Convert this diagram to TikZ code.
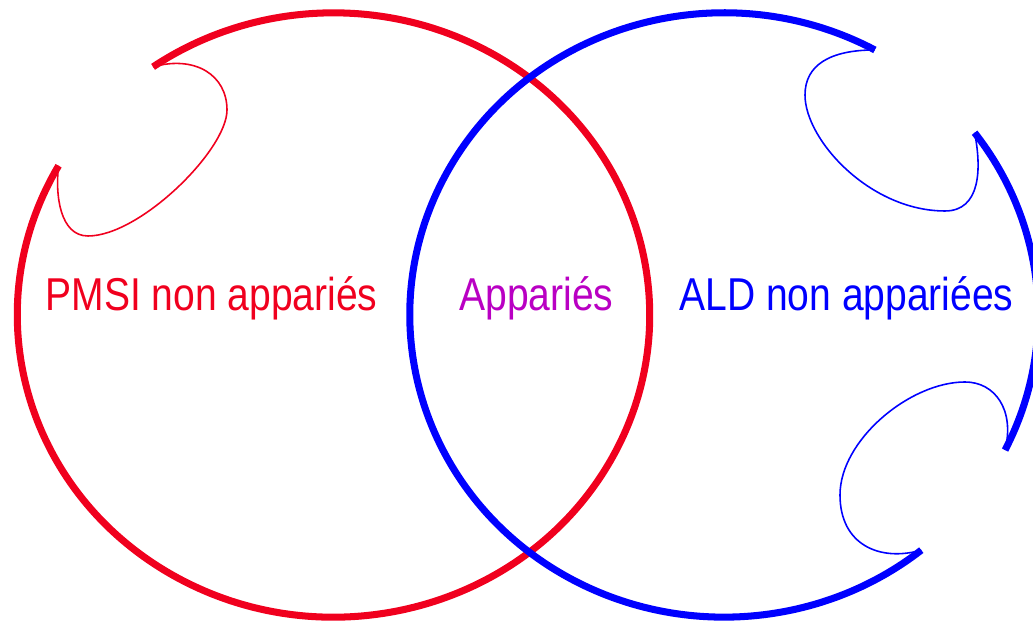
\documentclass[tikz,border=0pt]{standalone}
\usepackage{fontspec}
\setmainfont{Liberation Sans}
\usepackage{graphicx}

\definecolor{pmsired}{RGB}{240,0,30}
\definecolor{appviolet}{RGB}{185,0,195}
\definecolor{aldblue}{RGB}{0,0,255}

\begin{document}
\begin{tikzpicture}[
            x=0.01cm, y=0.01cm,
            thickline/.style={line width=2pt}, % contours des ensembles
            thinline/.style={line width=0.45pt}, % boucles des encoches
            every node/.style={font=\fontsize{11.1}{13}\selectfont, inner sep=0pt, anchor=base}
            ]
        \useasboundingbox (0,0) rectangle (1033,622);

        % centres des deux ellipses
        \coordinate (redc) at (333.5,307);
        \coordinate (bluec) at (724,307);

        % extremites des arcs
        \coordinate (rL) at ([shift={(150.4:3.16cm and 3.02cm)}]redc);
        \coordinate (rT) at ([shift={(124.8:3.16cm and 3.02cm)}]redc);
        \coordinate (bT) at ([shift={(61.3:3.14cm and 3.02cm)}]bluec);
        \coordinate (bR) at ([shift={(37.1:3.14cm and 3.02cm)}]bluec);
        \coordinate (bA) at ([shift={(-26.55:3.14cm and 3.02cm)}]bluec);
        \coordinate (bB) at ([shift={(-51.1:3.14cm and 3.02cm)}]bluec);

        % ensemble PMSI
        \draw[thickline, pmsired] (rL) arc[start angle=150.4, end angle=484.8, x radius=3.16cm, y radius=3.02cm];
        \draw[thinline, pmsired] (rT) .. controls (195,567) and (227,547) .. (227,512)
            .. controls (227,472) and (140,386) .. (88,386)
            .. controls (60,386) and (55,427) .. (rL);

        % ensemble ALD
        \draw[thickline, aldblue] (bT) arc[start angle=61.3, end angle=308.9, x radius=3.14cm, y radius=3.02cm];
        \draw[thickline, aldblue] (bA) arc[start angle=-26.55, end angle=37.1, x radius=3.14cm, y radius=3.02cm];
        \draw[thinline, aldblue] (bT) .. controls (830,572) and (805,557) .. (805,527)
            .. controls (805,482) and (870,411) .. (945,411)
            .. controls (980,411) and (982,452) .. (bR);
        \draw[thinline, aldblue] (bA) .. controls (1015,212) and (995,240) .. (965,240)
            .. controls (910,240) and (840,182) .. (840,127)
            .. controls (840,77) and (880,60) .. (bB);

        % etiquettes
        \node[pmsired] (pmsi) at (211.5,311) {\scalebox{1}[1.18]{PMSI non appariés}};
        \node[appviolet] (app) at (536.5,311) {\scalebox{1}[1.18]{Appariés}};
        \node[aldblue] (ald) at (846.5,311) {\scalebox{1}[1.18]{ALD non appariées}};

    \end{tikzpicture}
\end{document}
